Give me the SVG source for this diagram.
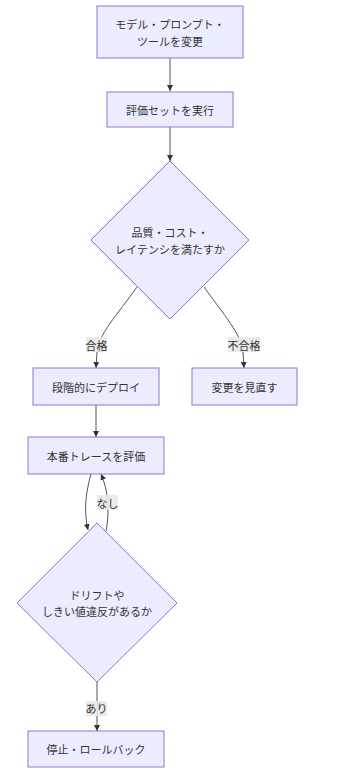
<svg xmlns="http://www.w3.org/2000/svg" width="342" height="779" viewBox="0 0 342 779">
<defs>
<marker id="arr" viewBox="0 0 10 10" refX="10" refY="5" markerWidth="6" markerHeight="6" markerUnits="userSpaceOnUse" orient="auto">
<path d="M0,0 L10,5 L0,10 z" fill="#333"/>
</marker>
<style>
.node{fill:#ECECFF;stroke:#9370DB;stroke-width:1}
.t{font-family:"Noto Sans CJK JP","Noto Sans",sans-serif;font-size:11px;fill:#333;text-anchor:middle;dominant-baseline:central}
.e{fill:none;stroke:#555;stroke-width:1;marker-end:url(#arr)}
.lb{fill:#e8e8e8;opacity:0.9}
</style>
</defs>
<rect width="342" height="779" fill="#fff"/>
<g id="edges">
<path class="e" d="M170,58 L170,91"/>
<path class="e" d="M170,127 L170,161"/>
<path class="e" d="M137,287 C117,315 98,335 97,352 L96,368"/>
<path class="e" d="M204,287 C224,315 242,335 243,352 L244,368"/>
<path class="e" d="M96,405 L96,437"/>
<path class="e" d="M91,474 C85,495 84,512 88,530"/>
<path class="e" d="M106,531 C110,510 108,490 101,474"/>
<path class="e" d="M97,682 L97,731"/>
<g id="edge-labels">
<rect class="lb" x="86" y="337" width="21" height="15"/><text class="t" x="96.5" y="344.5">合格</text>
<rect class="lb" x="228" y="337" width="32" height="15"/><text class="t" x="244" y="344.5">不合格</text>
<rect class="lb" x="97" y="495" width="21" height="15"/><text class="t" x="107.5" y="502.5">なし</text>
<rect class="lb" x="86" y="701" width="21" height="15"/><text class="t" x="96.5" y="708">あり</text>
</g>
</g>
<g id="A"><rect class="node" x="97" y="6" width="146" height="52"/><text class="t" x="170" y="24">モデル・プロンプト・</text><text class="t" x="170" y="41">ツールを変更</text></g>
<g id="B"><rect class="node" x="107" y="92" width="126" height="35"/><text class="t" x="170" y="109.5">評価セットを実行</text></g>
<g id="C"><polygon class="node" points="170,161 249,240 170,319 91,240"/><text class="t" x="170" y="232">品質・コスト・</text><text class="t" x="170" y="249">レイテンシを満たすか</text></g>
<g id="D"><rect class="node" x="33" y="368" width="126" height="37"/><text class="t" x="96" y="386.5">段階的にデプロイ</text></g>
<g id="E"><rect class="node" x="192" y="368" width="105" height="37"/><text class="t" x="244.5" y="386.5">変更を見直す</text></g>
<g id="F"><rect class="node" x="28" y="437" width="136" height="37"/><text class="t" x="96" y="455.5">本番トレースを評価</text></g>
<g id="G"><polygon class="node" points="97,523 177,603 97,682 17,603"/><text class="t" x="97" y="595">ドリフトや</text><text class="t" x="97" y="611">しきい値違反があるか</text></g>
<g id="H"><rect class="node" x="28" y="731" width="136" height="36"/><text class="t" x="96" y="749">停止・ロールバック</text></g>
</svg>
